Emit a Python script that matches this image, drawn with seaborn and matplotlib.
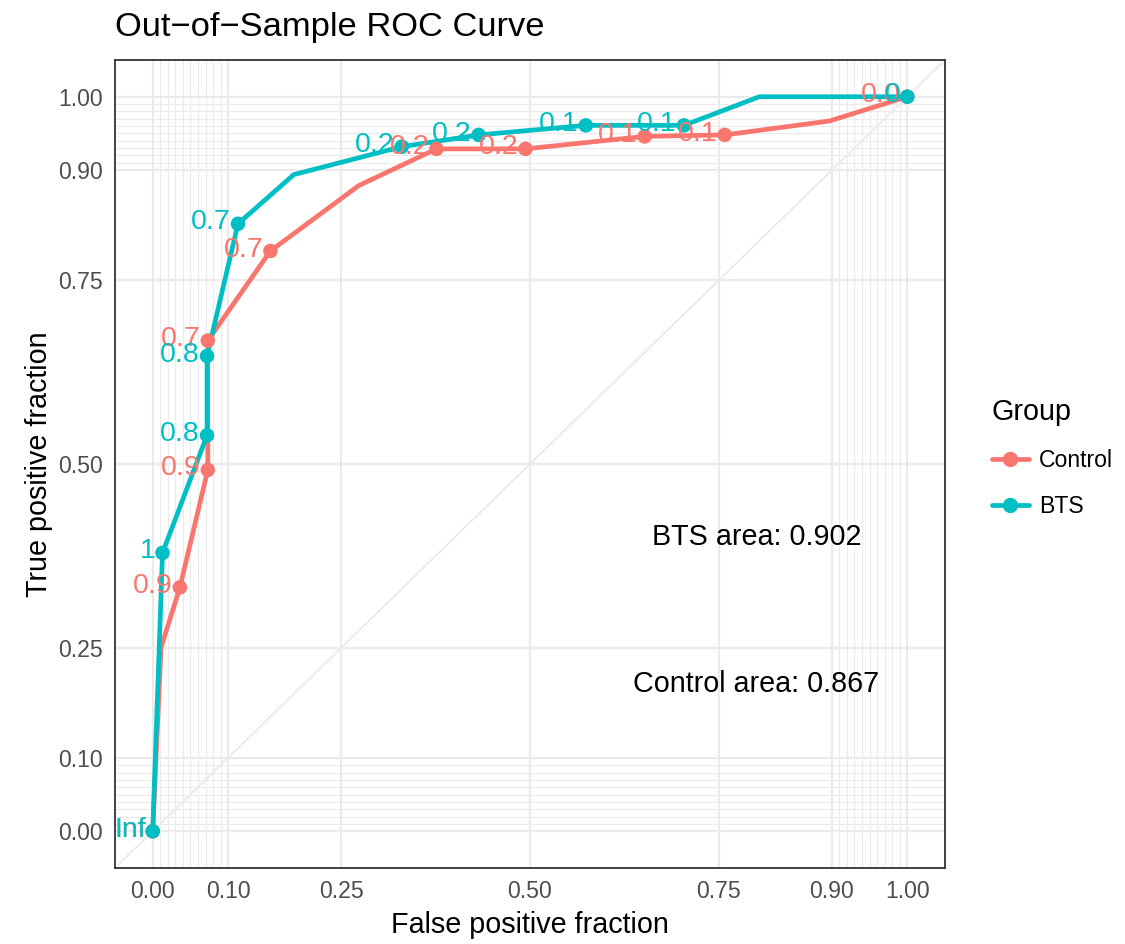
import numpy as np
import pandas as pd
import matplotlib
matplotlib.use("Agg")
import matplotlib.pyplot as plt
from matplotlib.lines import Line2D
import seaborn as sns

# ROC curve coordinates per group (false / true positive fractions) and cutoff labels
groups = ["Control", "BTS"]

ctrl_fpf = [0.0, 0.011, 0.036, 0.073, 0.073, 0.156, 0.273, 0.376, 0.494, 0.652, 0.758, 0.897, 1.0]
ctrl_tpf = [0.0, 0.250, 0.332, 0.492, 0.668, 0.790, 0.879, 0.929, 0.929, 0.946, 0.948, 0.967, 1.0]
ctrl_cut = ["Inf", "", "0.9", "0.9", "0.7", "0.7", "", "0.2", "0.2", "0.1", "0.1", "", "0.0"]

bts_fpf = [0.0, 0.013, 0.072, 0.072, 0.113, 0.187, 0.330, 0.432, 0.574, 0.704, 0.804, 1.0]
bts_tpf = [0.0, 0.379, 0.539, 0.647, 0.827, 0.894, 0.932, 0.948, 0.961, 0.961, 1.0, 1.0]
bts_cut = ["Inf", "1", "0.8", "0.8", "0.7", "", "0.2", "0.2", "0.1", "0.1", "", "0"]

auc_labels = {"BTS": "BTS area: 0.902", "Control": "Control area: 0.867"}
auc_pos = {"BTS": (0.8, 0.4), "Control": (0.8, 0.2)}

major_breaks = [0, 0.1, 0.25, 0.5, 0.75, 0.9, 1.0]
minor_breaks = [0.01, 0.02, 0.03, 0.04, 0.05, 0.06, 0.07, 0.08, 0.09,
                0.91, 0.92, 0.93, 0.94, 0.95, 0.96, 0.97, 0.98, 0.99]
break_labels = ["0.00", "0.10", "0.25", "0.50", "0.75", "0.90", "1.00"]

palette = {"Control": "#F8766D", "BTS": "#00BFC4"}

df = pd.concat([
    pd.DataFrame({"fpf": ctrl_fpf, "tpf": ctrl_tpf, "cut": ctrl_cut, "group": "Control"}),
    pd.DataFrame({"fpf": bts_fpf, "tpf": bts_tpf, "cut": bts_cut, "group": "BTS"}),
], ignore_index=True)
cuts = df[df["cut"] != ""]

sns.set_style("white")
plt.rcParams["font.family"] = ["Liberation Sans", "DejaVu Sans"]
plt.rcParams["text.color"] = "black"

fig = plt.figure(figsize=(11.25, 9.44), dpi=100)
ax = fig.add_axes([0.10222, 0.08051, 0.73778, 0.85593])

# grid in the style of a ROC plot: dense minor lines near both ends
ax.set_xlim(-0.05, 1.05)
ax.set_ylim(-0.05, 1.05)
ax.set_xticks(major_breaks)
ax.set_xticklabels(break_labels)
ax.set_yticks(major_breaks)
ax.set_yticklabels(break_labels)
ax.set_xticks(minor_breaks, minor=True)
ax.set_yticks(minor_breaks, minor=True)
ax.grid(which="major", color="#EBEBEB", lw=1.6)
ax.grid(which="minor", color="#EBEBEB", lw=0.8)
ax.set_axisbelow(True)
ax.tick_params(which="minor", length=0)
ax.tick_params(which="major", length=5, width=1.1, color="#333333",
               labelsize=16.6, labelcolor="#4D4D4D", pad=3.5)
for sp in ax.spines.values():
    sp.set_color("#333333")
    sp.set_linewidth(1.3)

ax.axline((0, 0), (1, 1), color="#EBEBEB", lw=1.4, zorder=1)

sns.lineplot(data=df, x="fpf", y="tpf", hue="group", palette=palette,
             sort=False, estimator=None, lw=3.4, legend=False, ax=ax, zorder=3)
sns.scatterplot(data=cuts, x="fpf", y="tpf", hue="group", palette=palette,
                s=110, edgecolor="none", legend=False, ax=ax, zorder=4)

for g in groups:
    sub = cuts[cuts["group"] == g]
    for _, r in sub.iterrows():
        ax.annotate(r["cut"], (r["fpf"], r["tpf"]), xytext=(-5, 1),
                    textcoords="offset points", ha="right", va="center",
                    color=palette[g], fontsize=20.5, zorder=5)

for g in ["BTS", "Control"]:
    ax.text(*auc_pos[g], auc_labels[g], ha="center", va="center",
            fontsize=20.7, color="black")

ax.set_xlabel("False positive fraction", fontsize=20.7, color="black", labelpad=6)
ax.set_ylabel("True positive fraction", fontsize=20.7, color="black", labelpad=4)
ax.set_title("Out\u2212of\u2212Sample ROC Curve", loc="left", fontsize=24.8,
             pad=17, color="black")

handles = [Line2D([0], [0], color=palette[g], lw=3.4, marker="o", ms=10) for g in groups]
leg = fig.legend(handles, groups, title="Group", loc="center left",
                 bbox_to_anchor=(0.863, 0.515), frameon=False, fontsize=16.6,
                 title_fontsize=20.7, handlelength=1.6, handletextpad=0.45,
                 labelspacing=1.0, alignment="left", labelcolor="black")
leg.get_title().set_color("black")

fig.savefig("out.png", dpi=100)
